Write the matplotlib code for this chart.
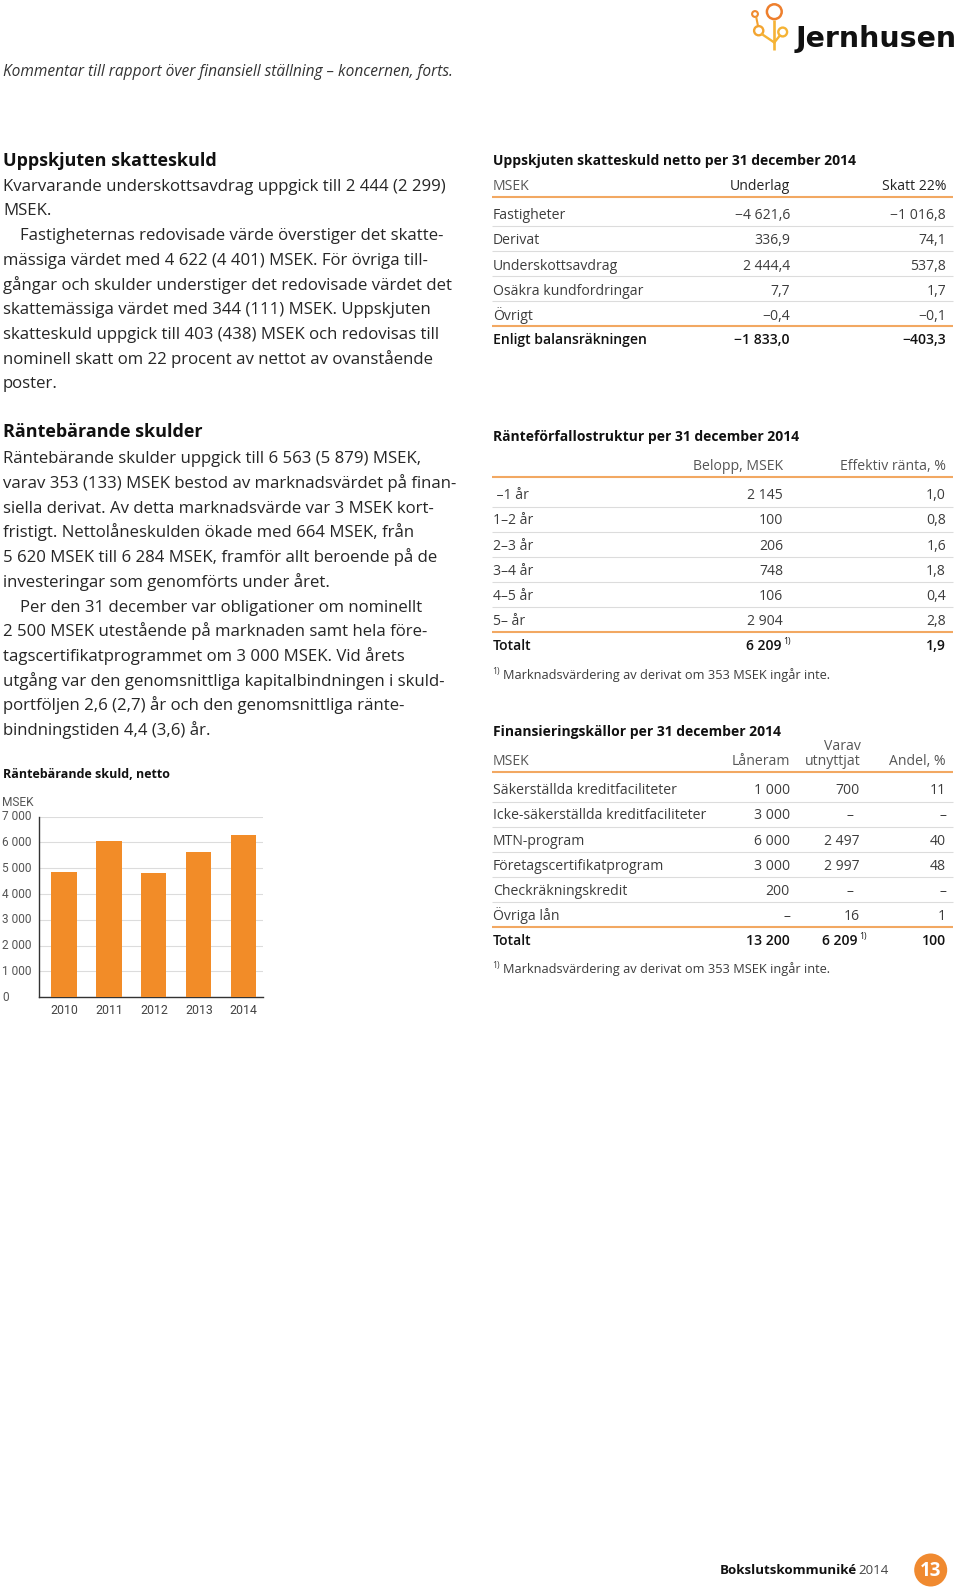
import numpy as np
import matplotlib
matplotlib.use('Agg')
import matplotlib.pyplot as plt
from matplotlib.patches import Circle
import matplotlib.transforms as mtransforms

# ---------------- data ----------------
years = ['2010', '2011', '2012', '2013', '2014']
net_debt = [4860, 6060, 4830, 5620, 6284]
yticks = [0, 1000, 2000, 3000, 4000, 5000, 6000, 7000]
ytick_labels = ['0', '1 000', '2 000', '3 000', '4 000', '5 000', '6 000', '7 000']

tax_items = ['Fastigheter', 'Derivat', 'Underskottsavdrag', 'Osäkra kundfordringar', 'Övrigt']
tax_base = ['−4 621,6', '336,9', '2 444,4', '7,7', '−0,4']
tax_rate = ['−1 016,8', '74,1', '537,8', '1,7', '−0,1']
tax_total = ['Enligt balansräkningen', '−1 833,0', '−403,3']

mat_labels = [' –1 år', '1–2 år', '2–3 år', '3–4 år', '4–5 år', '5– år']
mat_amount = ['2 145', '100', '206', '748', '106', '2 904']
mat_rate = ['1,0', '0,8', '1,6', '1,8', '0,4', '2,8']
mat_total = ['Totalt', '6 209', '1,9']

fund_labels = ['Säkerställda kreditfaciliteter', 'Icke-säkerställda kreditfaciliteter', 'MTN-program',
               'Företagscertifikatprogram', 'Checkräkningskredit', 'Övriga lån']
fund_frame = ['1 000', '3 000', '6 000', '3 000', '200', '–']
fund_used = ['700', '–', '2 497', '2 997', '–', '16']
fund_share = ['11', '–', '40', '48', '–', '1']
fund_total = ['Totalt', '13 200', '6 209', '100']

text1 = ["Kvarvarande underskottsavdrag uppgick till 2 444 (2 299)",
         "MSEK.",
         "Fastigheternas redovisade värde överstiger det skatte-",
         "mässiga värdet med 4 622 (4 401) MSEK. För övriga till-",
         "gångar och skulder understiger det redovisade värdet det",
         "skattemässiga värdet med 344 (111) MSEK. Uppskjuten",
         "skatteskuld uppgick till 403 (438) MSEK och redovisas till",
         "nominell skatt om 22 procent av nettot av ovanstående",
         "poster."]
text2 = ["Räntebärande skulder uppgick till 6 563 (5 879) MSEK,",
         "varav 353 (133) MSEK bestod av marknadsvärdet på finan-",
         "siella derivat. Av detta marknadsvärde var 3 MSEK kort-",
         "fristigt. Nettolåneskulden ökade med 664 MSEK, från",
         "5 620 MSEK till 6 284 MSEK, framför allt beroende på de",
         "investeringar som genomförts under året.",
         "Per den 31 december var obligationer om nominellt",
         "2 500 MSEK utestående på marknaden samt hela före-",
         "tagscertifikatprogrammet om 3 000 MSEK. Vid årets",
         "utgång var den genomsnittliga kapitalbindningen i skuld-",
         "portföljen 2,6 (2,7) år och den genomsnittliga ränte-",
         "bindningstiden 4,4 (3,6) år."]
indent1 = [2]
indent2 = [6]

# ---------------- setup ----------------
W, H = 960, 1594
plt.rcParams['font.family'] = ['Open Sans', 'DejaVu Sans']
fig = plt.figure(figsize=(W / 100, H / 100), dpi=100)
bg = fig.add_axes([0, 0, 1, 1])
bg.set_xlim(0, W)
bg.set_ylim(H, 0)
bg.axis('off')

ORANGE = '#F28C28'
LINE_OR = '#F2A862'
GREY_LINE = '#DCDCDC'
BODY = '#262626'
TAB = '#3C3C3C'


def T(x, y, s, size=10.0, weight='normal', ha='left', color=BODY, style='normal', family=None):
    kw = {}
    if family is not None:
        kw['family'] = family
    return bg.text(x, y, s, fontsize=size, fontweight=weight, ha=ha, va='baseline',
                   color=color, fontstyle=style, **kw)


def hline(y, color=GREY_LINE, lw=0.8, x0=492, x1=953):
    bg.plot([x0, x1], [y, y], color=color, lw=lw, solid_capstyle='butt')


# ---------------- logo ----------------
STEM = '#F5B335'
bg.plot([774.3, 774.3], [19.5, 50], color=STEM, lw=1.9, solid_capstyle='butt')
bg.plot([762.0, 774.3], [34.2, 42.5], color=STEM, lw=1.7)
bg.plot([779.5, 774.3], [36.0, 42.5], color=STEM, lw=1.7)
bg.plot([756.3, 758.0], [17.5, 26.0], color='#F3A030', lw=1.5)
for (cx, cy, r, c, w) in [(774.3, 11.7, 7.4, '#EE7F2D', 1.8), (755.0, 14.0, 2.9, '#F08A30', 1.5),
                          (758.7, 30.7, 4.6, '#F3A531', 1.7), (782.7, 32.0, 4.4, '#F5B335', 1.7)]:
    bg.add_patch(Circle((cx, cy), r, fill=False, ec=c, lw=w))
T(796, 47, 'Jernhusen', size=20.4, weight='bold', color='#111111', family='DejaVu Sans')

# ---------------- subtitle ----------------
T(3, 76, 'Kommentar till rapport över finansiell ställning – koncernen, forts.', size=11.2,
  style='italic', color='#333333')

# ---------------- left column text ----------------
BODY_SIZE = 12.1
T(3, 166, 'Uppskjuten skatteskuld', size=13.0, weight='bold', color='#111111')
for i, line in enumerate(text1):
    x = 20.5 if i in indent1 else 3
    T(x, 190.7 + 24.7 * i, line, size=BODY_SIZE)

T(3, 437.3, 'Räntebärande skulder', size=13.0, weight='bold', color='#111111')
for i, line in enumerate(text2):
    x = 20.5 if i in indent2 else 3
    T(x, 463.3 + 24.7 * i, line, size=BODY_SIZE)

# ---------------- bar chart ----------------
T(3, 778.3, 'Räntebärande skuld, netto', size=9.0, weight='bold', color='#111111')
T(2, 806, 'MSEK', size=8.6, color='#555555', family='Roboto')

ax = fig.add_axes([39 / W, 1 - 997.3 / H, (263 - 39) / W, (997.3 - 816.7) / H])
xpos = np.arange(len(years))
ax.bar(xpos, net_debt, width=0.56, color=ORANGE, zorder=3)
ax.set_xlim(-0.557, 4.43)
ax.set_ylim(0, 7000)
ax.set_yticks(yticks)
ax.set_yticklabels([])
ax.yaxis.grid(True, color=GREY_LINE, lw=0.8, zorder=0)
ax.set_axisbelow(True)
ax.set_xticks(xpos, years)
ax.tick_params(axis='x', length=0, pad=5, labelsize=8.9, labelcolor='#444444')
for lab in ax.get_xticklabels():
    lab.set_family('Roboto')
ax.tick_params(axis='y', length=0)
for s in ['top', 'right']:
    ax.spines[s].set_visible(False)
for s in ['left', 'bottom']:
    ax.spines[s].set_color('#333333')
    ax.spines[s].set_linewidth(1.0)
trans = mtransforms.blended_transform_factory(fig.transFigure, ax.transData)
for v, lab in zip(yticks, ytick_labels):
    ax.text(2 / W, v, lab, transform=trans, ha='left', va='center', fontsize=8.6,
            color='#555555', family='Roboto')

# ---------------- table 1 ----------------
TS = 10.1
TT = 10.0
T(492.7, 165, 'Uppskjuten skatteskuld netto per 31 december 2014', size=TT, weight='bold', color='#111111')
T(492.7, 190, 'MSEK', size=TS, color='#555555')
T(790, 190, 'Underlag', size=TS, ha='right', color='#222222')
T(946, 190, 'Skatt 22%', size=TS, ha='right', color='#222222')
hline(196.7, color=LINE_OR, lw=1.5)
for i, (a, b, c) in enumerate(zip(tax_items, tax_base, tax_rate)):
    y = 219.3 + 25.1 * i
    T(492.7, y, a, size=TS, color=TAB)
    T(790, y, b, size=TS, ha='right', color=TAB)
    T(946, y, c, size=TS, ha='right', color=TAB)
    if i < len(tax_items) - 1:
        hline(226 + 25.1 * i)
hline(326, color=LINE_OR, lw=1.5)
T(492.7, 344, tax_total[0], size=TS, weight='semibold', color='#111111')
T(790, 344, tax_total[1], size=TS, ha='right', weight='semibold', color='#111111')
T(946, 344, tax_total[2], size=TS, ha='right', weight='semibold', color='#111111')

# ---------------- table 2 ----------------
T(492.7, 440.7, 'Ränteförfallostruktur per 31 december 2014', size=TT, weight='bold', color='#111111')
T(783, 470, 'Belopp, MSEK', size=TS, ha='right', color='#555555')
T(946, 470, 'Effektiv ränta, %', size=TS, ha='right', color='#555555')
hline(476.7, color=LINE_OR, lw=1.5)
for i, (a, b, c) in enumerate(zip(mat_labels, mat_amount, mat_rate)):
    y = 499.3 + 25.1 * i
    T(492.7, y, a, size=TS, color=TAB)
    T(783, y, b, size=TS, ha='right', color=TAB)
    T(946, y, c, size=TS, ha='right', color=TAB)
    if i < len(mat_labels) - 1:
        hline(506.7 + 25.1 * i)
hline(631.7, color=LINE_OR, lw=1.5)
T(492.7, 650, mat_total[0], size=TS, weight='semibold', color='#111111')
T(782, 650, mat_total[1], size=TS, ha='right', weight='semibold', color='#111111')
T(783, 644, '1)', size=6.2, color='#111111')
T(946, 650, mat_total[2], size=TS, ha='right', weight='semibold', color='#111111')
T(492.7, 674, '1)', size=6.2, color=TAB)
T(502.7, 679.3, 'Marknadsvärdering av derivat om 353 MSEK ingår inte.', size=9.2, color=TAB)

# ---------------- table 3 ----------------
T(492.7, 735.7, 'Finansieringskällor per 31 december 2014', size=TT, weight='bold', color='#111111')
T(861, 750, 'Varav', size=TS, ha='right', color='#555555')
T(492.7, 765, 'MSEK', size=TS, color='#555555')
T(790, 765, 'Låneram', size=TS, ha='right', color='#555555')
T(861, 765, 'utnyttjat', size=TS, ha='right', color='#555555')
T(946, 765, 'Andel, %', size=TS, ha='right', color='#555555')
hline(771.7, color=LINE_OR, lw=1.5)
for i, (a, b, c, d) in enumerate(zip(fund_labels, fund_frame, fund_used, fund_share)):
    y = 794.3 + 25.1 * i
    T(492.7, y, a, size=TS, color=TAB)
    T(790, y, b, size=TS, ha='right', color=TAB)
    T(853 if c == '–' else 860, y, c, size=TS, ha='right', color=TAB)
    T(946, y, d, size=TS, ha='right', color=TAB)
    if i < len(fund_labels) - 1:
        hline(801.7 + 25.1 * i)
hline(926.7, color=LINE_OR, lw=1.5)
T(492.7, 945, fund_total[0], size=TS, weight='semibold', color='#111111')
T(790, 945, fund_total[1], size=TS, ha='right', weight='semibold', color='#111111')
T(858, 945, fund_total[2], size=TS, ha='right', weight='semibold', color='#111111')
T(859, 939, '1)', size=6.2, color='#111111')
T(946, 945, fund_total[3], size=TS, ha='right', weight='semibold', color='#111111')
T(492.7, 968, '1)', size=6.2, color=TAB)
T(502.7, 973.3, 'Marknadsvärdering av derivat om 353 MSEK ingår inte.', size=9.2, color=TAB)

# ---------------- footer ----------------
ft = T(719.3, 1574.5, 'Bokslutskommuniké', size=9.6, weight='bold', color='#111111')
fig.canvas.draw()
wpx = ft.get_window_extent(fig.canvas.get_renderer()).width
T(719.3 + wpx + 2, 1574.5, '2014', size=9.6, color='#444444')
bg.add_patch(Circle((930.7, 1570), 16.5, color='#F08A30', ec='none'))
bg.text(930.7, 1570.5, '13', fontsize=13.5, fontweight='bold', color='white', ha='center', va='center')

fig.savefig('out.png', dpi=100)
